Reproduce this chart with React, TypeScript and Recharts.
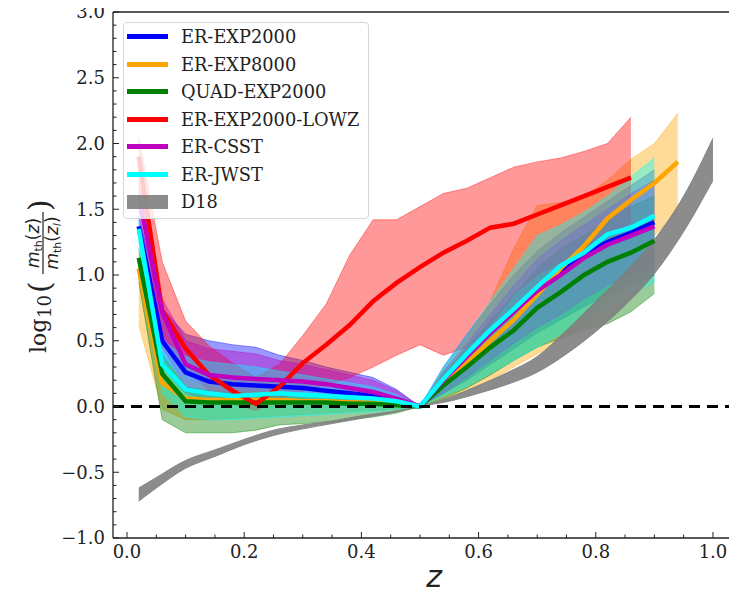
import { ComposedChart, Area, Line, XAxis, YAxis, ReferenceLine, Legend } from 'recharts'

// redshift grid shared by the simulated samples
const zGrid = [0.02, 0.06, 0.1, 0.14, 0.18, 0.22, 0.26, 0.3, 0.34, 0.38, 0.42, 0.46, 0.5,
  0.54, 0.58, 0.62, 0.66, 0.7, 0.74, 0.78, 0.82, 0.86, 0.9, 0.94]

const erExp2000Mid = [1.37, 0.5, 0.26, 0.19, 0.17, 0.16, 0.15, 0.14, 0.12, 0.1, 0.08, 0.05, 0.0, 0.2, 0.39, 0.57, 0.73, 0.9, 1.03, 1.16, 1.25, 1.32, 1.4]
const erExp2000Hi = [1.45, 0.75, 0.55, 0.5, 0.47, 0.45, 0.39, 0.35, 0.3, 0.26, 0.22, 0.13, 0.0, 0.3, 0.55, 0.78, 1.0, 1.18, 1.32, 1.44, 1.56, 1.68, 1.8]
const erExp2000Lo = [1.3, 0.3, 0.1, 0.05, 0.04, 0.04, 0.03, 0.03, 0.03, 0.02, 0.02, 0.01, 0.0, 0.1, 0.2, 0.32, 0.44, 0.56, 0.66, 0.76, 0.85, 0.93, 1.0]

const erExp8000Mid = [1.05, 0.18, 0.06, 0.05, 0.05, 0.05, 0.05, 0.04, 0.04, 0.03, 0.03, 0.02, 0.0, 0.17, 0.33, 0.5, 0.66, 0.85, 1.05, 1.22, 1.43, 1.57, 1.7, 1.86]
const erExp8000Hi = [1.12, 0.35, 0.2, 0.15, 0.13, 0.12, 0.11, 0.1, 0.09, 0.08, 0.07, 0.05, 0.0, 0.28, 0.5, 0.8, 1.2, 1.53, 1.55, 1.6, 1.72, 1.88, 2.0, 2.23]
const erExp8000Lo = [0.62, -0.02, -0.1, -0.1, -0.09, -0.08, -0.07, -0.06, -0.05, -0.04, -0.03, -0.02, 0.0, 0.06, 0.12, 0.2, 0.3, 0.4, 0.5, 0.62, 0.8, 1.0, 1.3, 1.48]

const quadMid = [1.13, 0.25, 0.04, 0.03, 0.03, 0.03, 0.03, 0.03, 0.03, 0.02, 0.02, 0.01, 0.0, 0.16, 0.3, 0.45, 0.58, 0.75, 0.87, 1.0, 1.1, 1.17, 1.26]
const quadHi = [1.2, 0.4, 0.15, 0.12, 0.1, 0.1, 0.09, 0.09, 0.08, 0.07, 0.06, 0.04, 0.0, 0.25, 0.45, 0.65, 0.85, 1.05, 1.2, 1.3, 1.42, 1.52, 1.6]
const quadLo = [0.95, -0.1, -0.2, -0.2, -0.2, -0.18, -0.14, -0.13, -0.12, -0.1, -0.08, -0.05, 0.0, 0.06, 0.14, 0.24, 0.35, 0.45, 0.52, 0.58, 0.63, 0.72, 0.86]

const lowzMid = [1.9, 0.73, 0.44, 0.24, 0.12, 0.02, 0.15, 0.33, 0.47, 0.62, 0.8, 0.94, 1.06, 1.17, 1.26, 1.36, 1.39, 1.46, 1.53, 1.6, 1.67, 1.74]
const lowzHi = [2.05, 1.1, 0.65, 0.46, 0.33, 0.22, 0.32, 0.54, 0.78, 1.15, 1.42, 1.42, 1.52, 1.62, 1.66, 1.74, 1.82, 1.86, 1.89, 1.94, 2.0, 2.2]
const lowzLo = [1.6, 0.55, 0.3, 0.12, 0.02, -0.03, 0.06, 0.12, 0.17, 0.22, 0.3, 0.39, 0.47, 0.39, 0.45, 0.62, 0.85, 1.0, 1.1, 1.2, 1.3, 1.4]

const csstMid = [1.6, 0.72, 0.32, 0.24, 0.22, 0.21, 0.2, 0.19, 0.17, 0.14, 0.11, 0.06, 0.0, 0.2, 0.38, 0.56, 0.72, 0.88, 1.0, 1.13, 1.23, 1.3, 1.37]
const csstHi = [1.7, 0.82, 0.5, 0.44, 0.42, 0.4, 0.35, 0.32, 0.28, 0.24, 0.2, 0.12, 0.0, 0.27, 0.48, 0.7, 0.92, 1.12, 1.26, 1.38, 1.5, 1.62, 1.72]
const csstLo = [1.5, 0.45, 0.15, 0.1, 0.09, 0.09, 0.08, 0.08, 0.07, 0.06, 0.05, 0.03, 0.0, 0.1, 0.22, 0.35, 0.48, 0.6, 0.7, 0.82, 0.92, 1.0, 1.08]

const jwstMid = [1.35, 0.32, 0.13, 0.1, 0.08, 0.09, 0.1, 0.09, 0.08, 0.07, 0.06, 0.04, 0.0, 0.21, 0.4, 0.58, 0.74, 0.91, 1.07, 1.17, 1.31, 1.36, 1.45]
const jwstHi = [1.42, 0.5, 0.38, 0.34, 0.32, 0.3, 0.27, 0.24, 0.21, 0.18, 0.15, 0.09, 0.0, 0.3, 0.55, 0.8, 1.05, 1.3, 1.38, 1.48, 1.6, 1.75, 1.89]
const jwstLo = [1.25, 0.1, -0.08, -0.1, -0.1, -0.09, -0.08, -0.07, -0.06, -0.05, -0.04, -0.02, 0.0, 0.08, 0.15, 0.25, 0.35, 0.45, 0.55, 0.65, 0.75, 0.85, 0.95]

// D18 analytic band, read at its own redshifts
const zD18 = [0.02, 0.05, 0.1, 0.15, 0.2, 0.25, 0.3, 0.35, 0.4, 0.45, 0.5, 0.55, 0.6, 0.65, 0.7, 0.75, 0.8, 0.85, 0.9, 0.95, 1.0]
const d18Lo = [-0.72, -0.62, -0.47, -0.38, -0.29, -0.22, -0.17, -0.13, -0.09, -0.05, 0.0, 0.04, 0.1, 0.17, 0.26, 0.4, 0.57, 0.77, 1.01, 1.33, 1.72]
const d18Hi = [-0.62, -0.54, -0.41, -0.33, -0.25, -0.18, -0.14, -0.11, -0.07, -0.04, 0.0, 0.07, 0.16, 0.26, 0.38, 0.58, 0.8, 1.02, 1.27, 1.6, 2.04]

const xTicks = [0, 0.05, 0.1, 0.15, 0.2, 0.25, 0.3, 0.35, 0.4, 0.45, 0.5, 0.55, 0.6, 0.65, 0.7, 0.75, 0.8, 0.85, 0.9, 0.95, 1.0]
const yTicks = Array.from({ length: 41 }, (_, i) => Math.round((-1 + i * 0.1) * 10) / 10)

const series = [
  { name: 'ER-EXP2000', color: '#0000ff', mid: erExp2000Mid, lo: erExp2000Lo, hi: erExp2000Hi },
  { name: 'ER-EXP8000', color: '#ffa500', mid: erExp8000Mid, lo: erExp8000Lo, hi: erExp8000Hi },
  { name: 'QUAD-EXP2000', color: '#008000', mid: quadMid, lo: quadLo, hi: quadHi },
  { name: 'ER-EXP2000-LOWZ', color: '#ff0000', mid: lowzMid, lo: lowzLo, hi: lowzHi },
  { name: 'ER-CSST', color: '#bf00bf', mid: csstMid, lo: csstLo, hi: csstHi },
  { name: 'ER-JWST', color: '#00ffff', mid: jwstMid, lo: jwstLo, hi: jwstHi },
]

const bandOf = (zs: number[], lo: number[], hi: number[]) => lo.map((l, i) => ({ z: zs[i], range: [l, hi[i]] }))
const curveOf = (zs: number[], v: number[]) => v.map((y, i) => ({ z: zs[i], v: y }))

const SERIF = 'DejaVu Serif'
const SANS = 'DejaVu Sans'
const INK = '#222'

const fmt = (v: number) => (v < 0 ? '\u2212' + Math.abs(v).toFixed(1) : v.toFixed(1))

const YTick = ({ x, y, payload }: any) => {
  const v = payload.value
  const major = Math.abs(v * 2 - Math.round(v * 2)) < 1e-6
  return (
    <g>
      <line x1={x} x2={x + (major ? 6 : 3.5)} y1={y} y2={y} stroke={INK} strokeWidth={1} />
      {major && (
        <text x={x - 8} y={y} dy="0.36em" textAnchor="end" fontFamily={SERIF} fontSize={18} fill={INK}>
          {fmt(v)}
        </text>
      )}
    </g>
  )
}

const XTick = ({ x, y, payload }: any) => {
  const v = payload.value
  const major = Math.abs(v * 5 - Math.round(v * 5)) < 1e-6
  return (
    <g>
      <line x1={x} x2={x} y1={y} y2={y - (major ? 6 : 3.5)} stroke={INK} strokeWidth={1} />
      {major && (
        <text x={x} y={y + 20} textAnchor="middle" fontFamily={SERIF} fontSize={18} fill={INK}>
          {fmt(v)}
        </text>
      )}
    </g>
  )
}

const XLabel = () => (
  <text x={426} y={587} textAnchor="middle" fontFamily={SANS} fontStyle="italic" fontSize={30} fill={INK}>
    z
  </text>
)

const YLabel = () => (
  <g transform="translate(38,353) rotate(-90)" fill={INK}>
    <text x={0} y={0} fontFamily={SERIF} fontSize={22}>log</text>
    <text x={35} y={5} fontFamily={SERIF} fontSize={18}>10</text>
    <text x={60} y={4} fontFamily={SERIF} fontSize={30}>(</text>
    <line x1={79} x2={141} y1={-3} y2={-3} stroke={INK} strokeWidth={1.2} />
    <text x={110} y={-7} textAnchor="middle" fontFamily={SANS} fontSize={17}>
      <tspan fontStyle="italic">m</tspan>
      <tspan fontSize={11} dy={3}>th</tspan>
      <tspan dy={-3}>(</tspan>
      <tspan fontStyle="italic">z</tspan>
      <tspan>)</tspan>
    </text>
    <text x={110} y={12} textAnchor="middle" fontFamily={SANS} fontSize={17}>
      <tspan fontStyle="italic">m</tspan>
      <tspan fontSize={11} dy={3}>th</tspan>
      <tspan dy={-3}>(</tspan>
      <tspan fontStyle="italic">z</tspan>
      <tspan fontSize={11} fontStyle="italic" dy={3}>l</tspan>
      <tspan dy={-3}>)</tspan>
    </text>
    <text x={142} y={4} fontFamily={SERIF} fontSize={30}>)</text>
  </g>
)

const legendItems = [...series.map(s => ({ name: s.name, color: s.color, patch: false })), { name: 'D18', color: '#808080', patch: true }]

const LegendBox = () => (
  <div
    style={{
      boxSizing: 'border-box',
      width: 246,
      height: 197,
      border: '1px solid #d6d6d6',
      borderRadius: 4,
      background: 'rgba(255,255,255,0.8)',
      fontFamily: SERIF,
      fontSize: 17.8,
      color: INK,
    }}
  >
    {legendItems.map(item => (
      <div key={item.name} style={{ display: 'flex', alignItems: 'center', height: 27.5 }}>
        <div
          style={{
            marginLeft: 3,
            width: 41,
            height: item.patch ? 14 : 5,
            background: item.color,
            opacity: item.patch ? 0.9 : 1,
          }}
        />
        <span style={{ marginLeft: 13, lineHeight: '27.5px' }}>{item.name}</span>
      </div>
    ))}
  </div>
)

export default function App() {
  return (
    <div style={{ marginTop: -8, marginBottom: -8 }}>
      <ComposedChart width={729} height={597} margin={{ top: 12, right: 0, bottom: 0, left: 0 }}>
        <XAxis
          type="number"
          dataKey="z"
          domain={[-0.0239, 1.041]}
          allowDataOverflow
          ticks={xTicks}
          interval={0}
          height={59}
          tickSize={0}
          tickMargin={0}
          tickLine={false}
          tick={<XTick />}
          axisLine={{ stroke: INK, strokeWidth: 1.3 }}
          label={XLabel}
        />
        <YAxis
          type="number"
          domain={[-1, 3]}
          allowDataOverflow
          ticks={yTicks}
          interval={0}
          width={105}
          tickSize={0}
          tickMargin={0}
          tickLine={false}
          tick={<YTick />}
          axisLine={{ stroke: INK, strokeWidth: 1.3 }}
          label={YLabel}
        />
        {series.map(s => (
          <Area
            key={s.name + '-band'}
            data={bandOf(zGrid, s.lo, s.hi)}
            dataKey="range"
            type="linear"
            fill={s.color}
            fillOpacity={0.4}
            stroke={s.color}
            strokeOpacity={0.4}
            strokeWidth={1}
            legendType="none"
            isAnimationActive={false}
          />
        ))}
        <Area
          data={bandOf(zD18, d18Lo, d18Hi)}
          dataKey="range"
          type="monotone"
          fill="#808080"
          fillOpacity={0.9}
          stroke="#808080"
          strokeOpacity={0.9}
          strokeWidth={1}
          legendType="none"
          isAnimationActive={false}
        />
        {series.map(s => (
          <Line
            key={s.name}
            data={curveOf(zGrid, s.mid)}
            dataKey="v"
            type="linear"
            stroke={s.color}
            strokeWidth={4.5}
            dot={false}
            activeDot={false}
            isAnimationActive={false}
          />
        ))}
        <ReferenceLine y={0} stroke="#000" strokeWidth={3} strokeDasharray="11 7" />
        <ReferenceLine y={3} stroke={INK} strokeWidth={1.3} />
        <Legend
          layout="horizontal"
          verticalAlign="middle"
          align="center"
          wrapperStyle={{ left: 115, top: 22, width: 246, height: 197 }}
          content={() => <LegendBox />}
        />
      </ComposedChart>
    </div>
  )
}
